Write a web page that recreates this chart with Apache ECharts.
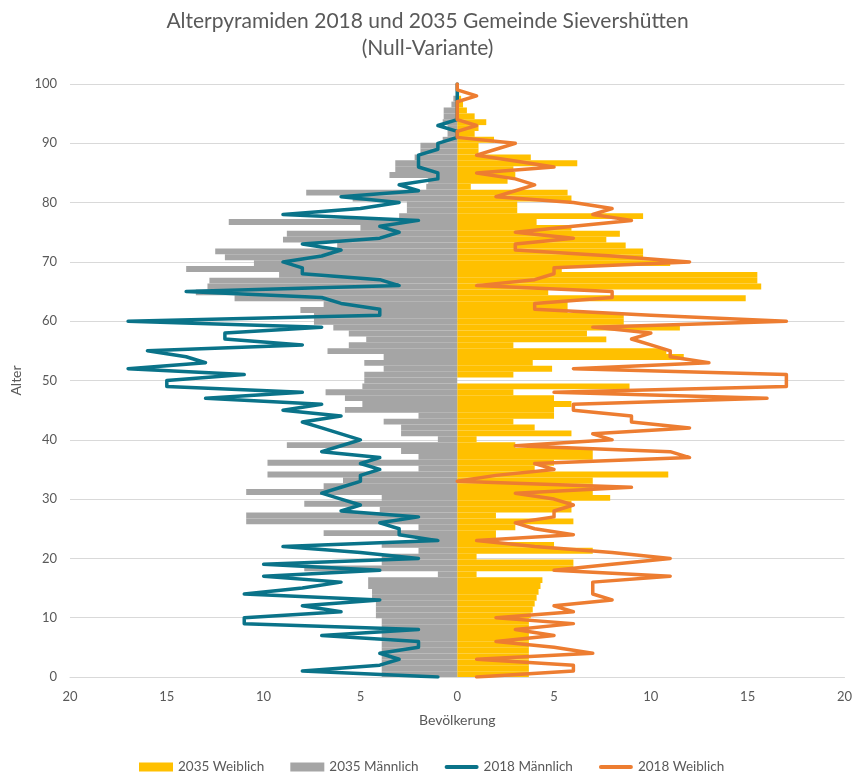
<!DOCTYPE html>
<html>
<head>
<meta charset="utf-8">
<script src="https://cdn.jsdelivr.net/npm/echarts/dist/echarts.min.js"></script>
<style>
  html, body { margin: 0; padding: 0; background: #fff; }
  #main { width: 855px; height: 774px; }
</style>
</head>
<body>
<div id="main"></div>
<script>
// Alter 0..100
const ages = [];
for (let a = 0; a <= 100; a++) ages.push(a);

// 2035 Weiblich (Balken rechts)
const weiblich2035 = [
  3.7, 3.7, 3.7, 3.7, 3.7, 3.7, 3.7, 3.7, 3.7, 3.7,
  3.8, 3.9, 4.0, 4.1, 4.2, 4.3, 4.4, 1.0, 6.0, 6.0,
  1.0, 7.0, 5.0, 2.0, 2.0, 3.0, 6.0, 2.0, 5.9, 5.9,
  7.9, 7.0, 7.0, 7.0, 10.9, 4.0, 5.0, 7.0, 7.0, 3.0,
  1.0, 5.9, 4.0, 2.9, 5.0, 5.0, 5.9, 5.0, 2.9, 8.9,
  0, 2.9, 4.9, 3.9, 11.7, 10.8, 2.9, 7.7, 6.7, 11.5,
  8.6, 8.6, 5.7, 5.7, 14.9, 4.7, 15.7, 15.5, 15.5, 5.4,
  11.0, 9.6, 9.6, 8.7, 7.7, 8.4, 5.9, 4.1, 9.6, 3.1,
  3.1, 5.9, 5.7, 0.7, 2.6, 3.0, 2.9, 6.2, 3.8, 1.1,
  1.1, 1.9, 0.9, 1.1, 1.5, 0.9, 0.5, 0.3, 0.2, 0.1,
  0
];

// 2035 Männlich (Balken links)
const maennlich2035 = [
  3.9, 3.9, 3.9, 3.9, 3.9, 3.9, 3.9, 3.9, 3.9, 3.9,
  4.2, 4.2, 4.2, 4.4, 4.4, 4.6, 4.6, 1.0, 7.9, 3.9,
  3.9, 2.0, 3.9, 2.0, 6.9, 2.0, 10.9, 10.9, 4.0, 7.9,
  3.9, 10.9, 6.9, 5.9, 9.8, 2.0, 9.8, 2.0, 2.9, 8.8,
  1.0, 2.9, 2.9, 3.8, 2.0, 5.8, 4.9, 5.8, 6.8, 4.9,
  4.8, 4.8, 3.8, 4.8, 3.8, 6.7, 5.6, 4.7, 5.6, 6.4,
  7.4, 7.4, 8.1, 6.9, 11.5, 13.5, 12.9, 12.8, 9.2, 14.0,
  10.5, 12.0, 12.5, 6.2, 9.0, 8.8, 5.0, 11.8, 3.0, 2.6,
  2.6, 5.4, 7.8, 1.6, 1.5, 3.5, 3.2, 3.2, 2.2, 1.9,
  1.9, 0.75, 0.5, 0.5, 0.75, 0.7, 0.7, 0.3, 0.2, 0,
  0
];

// 2018 Männlich (Linie links)
const maennlich2018 = [
  1, 8, 4, 3, 4, 2, 2, 7, 2, 11,
  11, 6, 8, 4, 11, 8, 6, 10, 4, 10,
  2, 5, 9, 1, 3, 3, 4, 2, 6, 5,
  6, 7, 6, 5, 5, 4, 5, 4, 7, 6,
  5, 6, 7, 8, 6, 9, 7, 13, 8, 15,
  15, 11, 17, 13, 14, 16, 8, 12, 12, 7,
  17, 4, 4, 6, 7, 14, 3, 4, 8, 8,
  9, 7, 6, 8, 4, 3, 4, 2, 9, 5,
  3, 6, 2, 3, 1, 1, 2, 2, 2, 1,
  1, 0, 0, 1, 0, 0, 0, 0, 0, 0,
  0
];

// 2018 Weiblich (Linie rechts)
const weiblich2018 = [
  1, 6, 6, 1, 7, 5, 2, 5, 3, 6,
  2, 6, 5, 8, 7, 7, 7, 11, 5, 8,
  11, 8, 4, 1, 6, 4, 3, 5, 5, 6,
  5, 3, 9, 0, 2, 5, 4, 12, 11, 3,
  8, 7, 12, 9, 9, 6, 6, 16, 5, 17,
  17, 17, 6, 13, 11, 11, 10, 9, 10, 7,
  17, 10, 4, 4, 8, 8, 1, 4, 5, 5,
  12, 8, 3, 3, 6, 3, 6, 9, 7, 8,
  6, 2, 3, 4, 3, 1, 5, 3, 1, 2,
  3, 0, 0, 1, 0, 0, 0, 0, 1, 0,
  0
];

const font = "Lato";
const grau = "#595959";
const linienIcon = "path://M2,0 L32,0 A2,2 0 0 1 32,4 L2,4 A2,2 0 0 1 2,0 Z";

let myChart = echarts.init(document.getElementById("main"));
myChart.setOption({
  animation: false,
  textStyle: { fontFamily: font },
  title: {
    text: "Alterpyramiden 2018 und 2035 Gemeinde Sievershütten\n(Null-Variante)",
    left: "center",
    top: 3,
    textStyle: {
      color: grau,
      fontSize: 21,
      fontWeight: "normal",
      fontFamily: font,
      lineHeight: 27
    }
  },
  legend: {
    bottom: 0,
    left: 139,
    padding: 0,
    itemWidth: 34,
    itemHeight: 9,
    itemGap: 26,
    textStyle: { color: grau, fontSize: 13.5, fontFamily: font },
    data: [
      { name: "2035 Weiblich", icon: "rect" },
      { name: "2035 Männlich", icon: "rect" },
      { name: "2018 Männlich", icon: linienIcon },
      { name: "2018 Weiblich", icon: linienIcon }
    ]
  },
  grid: {
    left: 70,
    right: 8,
    top: 84,
    bottom: 97
  },
  xAxis: {
    type: "value",
    min: -20,
    max: 20,
    interval: 5,
    name: "Bevölkerung",
    nameLocation: "middle",
    nameGap: 36,
    nameTextStyle: { color: grau, fontSize: 14 },
    axisLine: { show: true, onZero: false, lineStyle: { color: "#d9d9d9" } },
    axisTick: { show: false },
    splitLine: { show: false },
    axisLabel: {
      color: grau,
      fontSize: 13,
      margin: 13,
      formatter: function (v) { return Math.abs(v); }
    }
  },
  yAxis: [
    {
      type: "value",
      min: 0,
      max: 100,
      interval: 10,
      name: "Alter",
      nameLocation: "middle",
      nameGap: 44,
      nameTextStyle: { color: grau, fontSize: 14 },
      axisLine: { show: false },
      axisTick: { show: false },
      splitLine: { lineStyle: { color: "#d9d9d9", width: 1 } },
      axisLabel: { color: grau, fontSize: 13, margin: 13 }
    },
    {
      // Kategorien nur für die Balken
      type: "category",
      data: ages,
      boundaryGap: true,
      show: false
    }
  ],
  series: [
    {
      name: "2035 Weiblich",
      type: "bar",
      xAxisIndex: 0,
      yAxisIndex: 1,
      barGap: "-100%",
      barCategoryGap: "0%",
      itemStyle: { color: "#ffc000" },
      data: weiblich2035
    },
    {
      name: "2035 Männlich",
      type: "bar",
      xAxisIndex: 0,
      yAxisIndex: 1,
      barGap: "-100%",
      barCategoryGap: "0%",
      itemStyle: { color: "#a5a5a5" },
      data: maennlich2035.map(v => -v)
    },
    {
      name: "2018 Männlich",
      type: "line",
      xAxisIndex: 0,
      yAxisIndex: 0,
      symbol: "none",
      itemStyle: { color: "#0a7389" },
      lineStyle: { color: "#0a7389", width: 3.5, cap: "round", join: "round" },
      data: ages.map((a, i) => [-maennlich2018[i], a])
    },
    {
      name: "2018 Weiblich",
      type: "line",
      xAxisIndex: 0,
      yAxisIndex: 0,
      symbol: "none",
      itemStyle: { color: "#ed7d31" },
      lineStyle: { color: "#ed7d31", width: 3.5, cap: "round", join: "round" },
      data: ages.map((a, i) => [weiblich2018[i], a])
    }
  ]
});
</script>
</body>
</html>
